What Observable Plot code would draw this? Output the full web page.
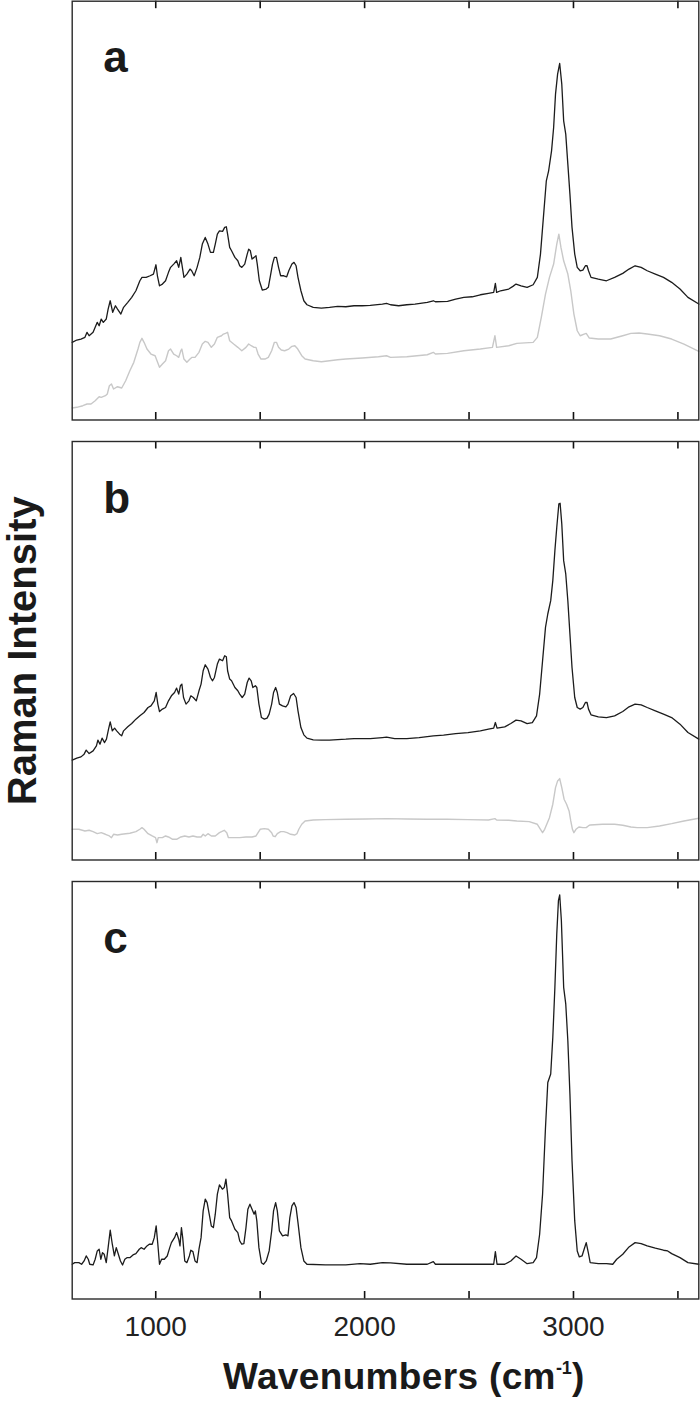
<!DOCTYPE html>
<html>
<head>
<meta charset="utf-8">
<script src="https://cdn.jsdelivr.net/npm/d3@7"></script>
<script src="https://cdn.jsdelivr.net/npm/@observablehq/plot@0.6"></script>
<style>
  html, body { margin: 0; padding: 0; background: #fff; }
  #fig { position: relative; width: 700px; height: 1402px; font-family: "Liberation Sans", Arial, Helvetica, sans-serif; color: #1a1a1a; }
  .panel { position: absolute; left: 0; }
  #xlabel { position: absolute; left: 223px; top: 1358px; font-size: 37px; font-weight: bold; line-height: 37px; white-space: nowrap; letter-spacing: 0.35px; }
  #xlabel .sup { font-size: 18px; position: relative; top: -15px; letter-spacing: 0; }
</style>
</head>
<body>
<div id="fig">
  <div id="xlabel">Wavenumbers (cm<span class="sup">-1</span>)</div>
</div>
<script>
// ---- data: [wavenumber (cm-1), intensity (arb. units)] ----
const xDomain = [600, 3600];
const tickValues = [1000, 1500, 2000, 2500, 3000, 3500];
const tickLabelValues = [1000, 2000, 3000];
const panelLetters = ["a", "b", "c"];
const yLabelText = "Raman Intensity";

const spectrumA = [[600,77.7],[622,80],[642,81],[661,82.7],[671,87.7],[681,84.3],[700,87.7],[720,97.7],[729,94.3],[739,101],[749,97.7],[763,101],[772,111],[782,119.3],[794,107.7],[807,114.3],[817,111],[833,106],[846,112.7],[866,117.7],[885,122.7],[905,129.3],[924,139.3],[934,142.7],[954,142.7],[973,144.3],[989,146],[1001,155.3],[1008,144.3],[1018,134.3],[1032,136],[1047,139.3],[1061,147.7],[1071,152.7],[1086,156],[1100,159.3],[1110,152.7],[1120,162.7],[1125,156],[1135,142.7],[1149,146],[1164,151],[1172,149.3],[1184,144.3],[1198,152.7],[1211,162.7],[1223,176],[1237,182.7],[1250,176],[1262,167.7],[1276,167.7],[1285,176],[1295,186],[1305,189.3],[1320,188.7],[1330,192.7],[1338,193.3],[1344,186],[1354,172.7],[1363,169.3],[1379,162.7],[1393,159.3],[1402,154.3],[1412,152.7],[1426,156],[1438,166],[1445,171],[1453,169.3],[1461,161],[1471,162.7],[1480,164.3],[1486,156],[1496,139.3],[1510,130],[1529,131],[1539,132.7],[1549,144.3],[1559,156],[1568,162.7],[1578,162.7],[1588,152.7],[1598,144.3],[1613,144.3],[1627,143.3],[1637,149.3],[1652,156],[1662,157.7],[1672,154.3],[1681,142.7],[1695,129.3],[1709,119.3],[1724,115.3],[1754,112.7],[1793,112],[1832,112.7],[1871,113.7],[1910,113.3],[1949,114.3],[1988,114.3],[2027,114.7],[2085,116],[2105,116.7],[2124,115.3],[2163,114.3],[2202,115.3],[2241,116],[2300,117.7],[2329,119.3],[2339,118.3],[2397,118.7],[2436,121],[2475,122.7],[2515,123.3],[2554,125.3],[2593,126.7],[2618,127.7],[2626,136.7],[2632,127.7],[2651,129.3],[2690,131],[2710,133.7],[2725,136],[2749,134.3],[2778,132.7],[2807,135.3],[2827,142.7],[2842,166],[2856,202.7],[2870,239.3],[2881,249.3],[2895,269.3],[2905,292.7],[2914,326],[2924,346],[2934,356.7],[2944,336],[2953,299.3],[2963,286],[2973,256],[2983,226],[2993,192.7],[3006,166],[3018,152.7],[3032,149.3],[3045,150],[3057,154.3],[3065,154.3],[3072,149.3],[3084,142.7],[3119,141],[3158,139.3],[3197,142.7],[3236,146.7],[3266,151],[3295,154.3],[3324,152.7],[3353,149.3],[3392,146],[3431,142.7],[3470,137.7],[3510,131],[3548,122.7],[3600,116]];

const spectrumAGray = [[600,12],[622,12.7],[651,14.3],[671,16],[690,16],[710,19.3],[729,23.3],[739,22.7],[759,24.3],[768,26],[778,34.3],[788,36],[798,31],[817,33.3],[837,32],[856,39.3],[876,49.3],[895,57.7],[915,71],[924,77.7],[934,81.7],[944,77.7],[958,71],[977,66],[997,64.3],[1006,59.3],[1018,52.7],[1032,56],[1047,59.3],[1061,69.3],[1071,71],[1086,66],[1100,64.3],[1110,62.7],[1120,69.3],[1125,71],[1135,61],[1149,57.7],[1164,61],[1174,62.7],[1188,62.7],[1207,67.7],[1223,76],[1237,78.7],[1250,77.7],[1266,72.7],[1281,76],[1295,82.7],[1315,84.3],[1324,86],[1334,86.7],[1344,87.7],[1354,79.3],[1373,76],[1393,72.7],[1412,69.3],[1432,72.7],[1445,76],[1457,74.3],[1471,72.7],[1480,72.7],[1490,66],[1504,61],[1523,61],[1539,62.7],[1555,69.3],[1568,77.7],[1578,77.7],[1588,72.7],[1601,70],[1617,69.3],[1637,71],[1652,73.7],[1666,74.3],[1680,71],[1699,64.3],[1715,61],[1754,59.3],[1793,58.3],[1832,59.3],[1871,60.3],[1910,61],[1988,62],[2066,63.3],[2105,64.3],[2124,62.7],[2202,63.3],[2300,65.3],[2329,67.7],[2339,66],[2397,66.7],[2475,69.3],[2554,71],[2612,72.7],[2624,84.3],[2632,72.7],[2690,74.3],[2729,76.7],[2807,77.7],[2827,82.7],[2846,102.7],[2866,126],[2885,142.7],[2905,156],[2920,176],[2930,186],[2940,172.7],[2953,159.3],[2973,146],[2987,129.3],[3002,106],[3018,89.3],[3032,84.3],[3051,86],[3061,86.7],[3076,82],[3119,81],[3178,81],[3236,84.3],[3275,86.7],[3314,87],[3353,86],[3412,84.3],[3470,81],[3529,76],[3600,68.7]];

const spectrumB = [[600,99.7],[622,101.7],[642,103],[657,105.7],[667,109.7],[681,106.3],[700,109],[716,114],[723,119.7],[733,115.7],[743,121.7],[755,117.3],[764,120.7],[774,130.7],[782,138],[792,129],[803,131.7],[813,129],[827,125.7],[837,124],[846,129],[866,133],[885,136.3],[905,140.7],[924,144],[944,147.3],[963,152.3],[977,154],[993,159],[1002,167.3],[1010,155.7],[1018,148.3],[1032,150.7],[1047,152.3],[1061,159],[1075,164],[1090,167.3],[1100,171.7],[1110,165.7],[1118,174],[1125,175.7],[1133,162.3],[1145,155.7],[1159,159],[1168,164],[1180,162.3],[1194,159],[1207,169],[1217,175.7],[1227,189],[1237,195],[1250,190.7],[1262,182.3],[1272,179],[1281,182.3],[1295,195.7],[1305,200.7],[1320,199],[1330,204],[1338,203],[1344,189],[1354,180.7],[1363,179],[1379,172.3],[1393,169],[1402,165.7],[1414,162.3],[1426,165.7],[1438,177.3],[1447,181.7],[1457,179],[1465,172.3],[1477,174],[1484,172.3],[1494,155.7],[1506,142.3],[1520,140.7],[1533,141.7],[1543,145.7],[1555,155.7],[1564,167.3],[1574,172.3],[1582,167.3],[1592,155.7],[1607,154],[1623,153],[1633,155.7],[1646,164],[1660,166.3],[1672,162.3],[1681,149],[1695,132.3],[1709,125],[1724,121.7],[1754,120],[1793,119.7],[1832,119.7],[1871,120.3],[1910,120.7],[1949,121.3],[1988,121.3],[2027,121.3],[2085,122.3],[2105,122.7],[2144,121.3],[2202,121.3],[2261,122.3],[2300,123.3],[2329,124],[2378,124.7],[2436,126.3],[2495,127.3],[2554,129],[2593,130.7],[2618,131.7],[2626,137.3],[2634,131.7],[2671,133],[2700,136.3],[2725,139.7],[2749,139],[2778,136.3],[2803,137.3],[2823,144],[2838,165.7],[2852,199],[2866,232.3],[2877,245.7],[2891,259],[2901,279],[2911,309],[2920,332.3],[2930,355.7],[2936,356.3],[2944,335.7],[2953,299],[2963,285.7],[2973,259],[2983,225.7],[2993,192.3],[3006,162.3],[3018,152.3],[3032,150.7],[3045,152.3],[3057,157.3],[3065,157.3],[3072,150.7],[3084,145],[3119,143],[3158,142.3],[3197,144],[3236,148.3],[3266,153],[3295,155.7],[3324,155],[3353,152.3],[3392,149],[3431,145.7],[3470,142.3],[3510,135.7],[3548,127.3],[3600,120.7]];

const spectrumBGray = [[600,30.7],[632,30.7],[661,29],[681,29.7],[700,28.3],[720,26.3],[739,27.3],[759,25.7],[778,24],[788,22.3],[798,25.7],[817,25],[837,25.7],[876,26.7],[905,28.3],[924,30.7],[934,32.3],[944,30.7],[963,26.3],[983,24],[999,22.3],[1006,17.3],[1012,22.3],[1032,22.3],[1047,24],[1061,23],[1081,20.7],[1100,20.7],[1120,23],[1139,24],[1159,23],[1178,24],[1198,23],[1217,23],[1227,25.7],[1237,24],[1250,26.3],[1266,24],[1285,24],[1305,27.3],[1315,28.3],[1328,29.7],[1340,27.3],[1348,22.3],[1363,22.3],[1402,22.3],[1432,23],[1461,23],[1480,24],[1490,27.3],[1500,30.7],[1520,31.3],[1539,30.7],[1555,27.3],[1562,24],[1572,23.3],[1582,26.3],[1598,28.3],[1613,28.3],[1629,27.3],[1646,25.7],[1666,25],[1676,26.3],[1685,30.7],[1699,35.7],[1715,39],[1754,40],[1812,40.3],[1910,40.7],[2007,41],[2105,41.3],[2202,41],[2300,40.7],[2397,40.7],[2495,40.3],[2593,40],[2624,41.3],[2632,40],[2690,39.7],[2729,39],[2788,38.3],[2827,35.7],[2842,30.7],[2852,27.3],[2862,30.7],[2872,35.7],[2885,42.3],[2901,55.7],[2914,72.3],[2924,79],[2934,81.3],[2944,72.3],[2955,60.7],[2967,55.7],[2979,49],[2987,39],[2995,30.7],[3002,27.3],[3012,30.7],[3026,33],[3045,32.3],[3061,32.3],[3071,34],[3080,35],[3139,35.7],[3197,35.7],[3236,34.7],[3275,33],[3305,32.3],[3353,32.3],[3412,34],[3470,36.3],[3529,39],[3600,41.7]];

const spectrumC = [[600,34.7],[612,36.3],[632,36.3],[645,34.7],[657,38],[667,43],[677,39.7],[684,34.7],[700,34],[710,39.7],[720,48],[729,49.7],[737,39.7],[745,46.3],[753,44.7],[763,36.3],[772,51.3],[782,68.7],[792,54.7],[802,43],[811,51.3],[821,44.7],[831,38],[841,34],[852,39.7],[862,41.3],[876,41.3],[891,44],[905,45.3],[921,49.7],[930,51.3],[944,49.7],[958,53],[969,54.7],[983,54.7],[993,61.3],[1002,73],[1010,54.7],[1018,34.7],[1028,39.7],[1041,39.7],[1055,43],[1067,51.3],[1075,56.3],[1090,61.3],[1100,66.3],[1110,59.7],[1116,53],[1123,71.3],[1129,61.3],[1139,38],[1149,36.3],[1161,43],[1168,48.7],[1178,47.3],[1188,38],[1198,36.3],[1207,49.7],[1217,61.3],[1227,88],[1237,99.7],[1246,96.3],[1256,84.7],[1266,73],[1276,71.3],[1285,84.7],[1295,104.7],[1305,114],[1319,109.7],[1328,111.3],[1336,119.7],[1344,104.7],[1354,81.3],[1363,78],[1379,69.7],[1393,66.3],[1402,58],[1412,54.7],[1422,55.3],[1432,71.3],[1441,89.7],[1451,94.7],[1461,89.7],[1471,84.7],[1477,88],[1484,78],[1494,51.3],[1506,36.3],[1516,34.7],[1529,38],[1543,48],[1555,68],[1564,88],[1574,96.3],[1582,88],[1592,68],[1607,63],[1623,64],[1633,63],[1642,81.3],[1652,93],[1662,96.3],[1672,91.3],[1681,76.3],[1695,51.3],[1709,38],[1724,34.7],[1812,34],[1910,34],[1978,35.3],[2027,34.7],[2085,36.3],[2124,36],[2202,34.7],[2300,34.7],[2329,37.3],[2339,34.7],[2397,34.7],[2495,34.7],[2593,34.7],[2618,34.7],[2626,47.3],[2634,34.7],[2671,34.7],[2700,38],[2725,43],[2749,39.7],[2778,35.3],[2807,36.3],[2823,41.3],[2838,64.7],[2852,104.7],[2866,171.3],[2877,216.3],[2891,224.7],[2901,261.3],[2911,311.3],[2920,364.7],[2928,398],[2934,403.7],[2942,378],[2953,311.3],[2963,294.7],[2973,258],[2983,204.7],[2993,138],[3006,78],[3018,48],[3028,42],[3041,43],[3051,49.7],[3061,56.3],[3071,46.3],[3080,36.3],[3119,35.3],[3158,35.3],[3188,34.7],[3207,39.7],[3236,44.7],[3266,52],[3295,56.3],[3324,55.3],[3353,53],[3392,50.7],[3431,48.7],[3451,48],[3470,45.3],[3510,41.3],[3548,36.3],[3600,34.7]];

// ---- drawing ----
const FONT = '"Liberation Sans", Arial, Helvetica, sans-serif';
const BLACK = "#1c1c1c";
const GRAY = "#c8c8c8";
const TICK_LEN = 7.5;
const fig = document.getElementById("fig");

function panel({top, height, marginTop, marginBottom, yMax, black, gray, letter, extra = []}) {
  const plotH = height - marginTop - marginBottom;
  const marks = [];
  if (gray) marks.push(Plot.line(gray, {x: d => d[0], y: d => d[1], stroke: GRAY, strokeWidth: 1.4}));
  marks.push(Plot.line(black, {x: d => d[0], y: d => d[1], stroke: BLACK, strokeWidth: 1.3}));
  // inward ticks at bottom and top of each frame
  marks.push(Plot.ruleX(tickValues, {x: d => d, insetTop: plotH - TICK_LEN, stroke: "#111", strokeWidth: 1.6}));
  marks.push(Plot.ruleX(tickValues, {x: d => d, insetBottom: plotH - TICK_LEN, stroke: "#111", strokeWidth: 1.6}));
  marks.push(Plot.frame({stroke: "#2a2a2a", strokeWidth: 1.4}));
  marks.push(Plot.text([letter], {frameAnchor: "top-left", dx: 31, dy: 71, lineAnchor: "bottom", textAnchor: "start", fontSize: 44, fontWeight: "bold", fill: "#1a1a1a"}));
  marks.push(...extra);
  const svg = Plot.plot({
    width: 700,
    height,
    marginLeft: 71.7,
    marginRight: 1.7,
    marginTop,
    marginBottom,
    x: {domain: xDomain, axis: null},
    y: {domain: [0, yMax], axis: null},
    style: {fontFamily: FONT, color: "#1a1a1a", background: "transparent", overflow: "visible"},
    marks
  });
  svg.classList.add("panel");
  svg.style.position = "absolute";
  svg.style.top = top + "px";
  svg.style.left = "0px";
  fig.appendChild(svg);
}

panel({top: 0, height: 421, marginTop: 0.7, marginBottom: 1.5, yMax: 419, black: spectrumA, gray: spectrumAGray, letter: panelLetters[0]});
panel({top: 440, height: 421, marginTop: 1, marginBottom: 1.5, yMax: 418, black: spectrumB, gray: spectrumBGray, letter: panelLetters[1],
  extra: [Plot.text([yLabelText], {frameAnchor: "left", rotate: -90, dx: -36, lineAnchor: "bottom", textAnchor: "middle", fontSize: 40, fontWeight: "bold", fill: "#1a1a1a"})]});
panel({top: 880, height: 480, marginTop: 1, marginBottom: 61.5, yMax: 417, black: spectrumC, gray: null, letter: panelLetters[2],
  extra: [Plot.axisX(tickLabelValues, {anchor: "bottom", tickSize: 0, tickPadding: 17, tickFormat: d3.format("d"), fontSize: 28, fill: "#222", label: null})]});
</script>
</body>
</html>
